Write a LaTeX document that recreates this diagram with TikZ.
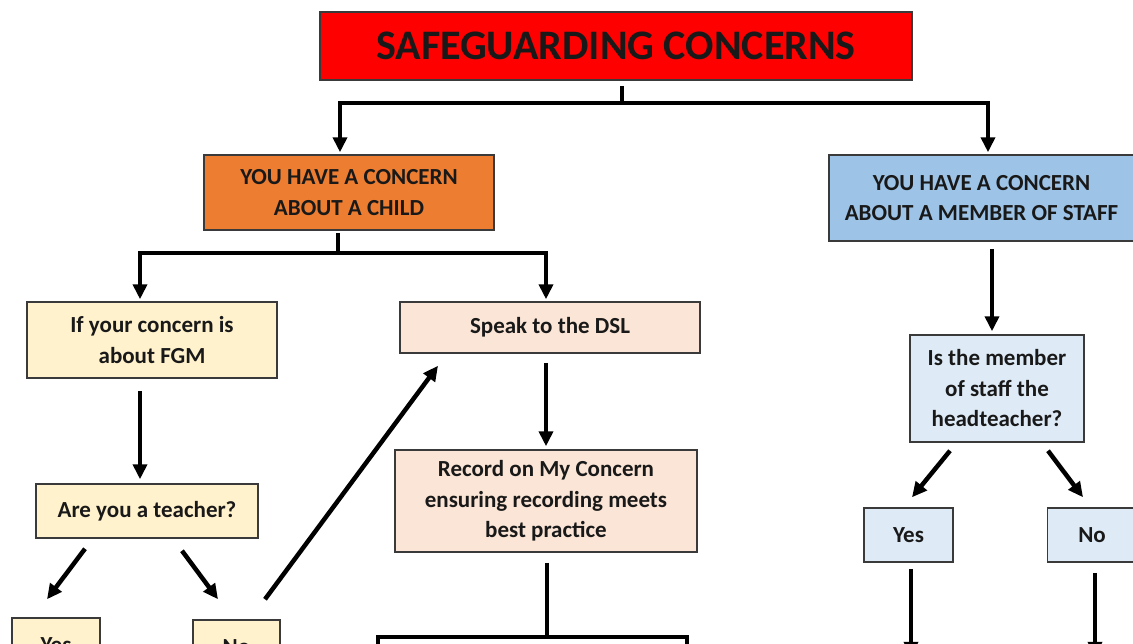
\documentclass[tikz,border=0pt]{standalone}
\usepackage{fontspec}
\setmainfont{Carlito}
\usetikzlibrary{arrows.meta,calc}
\definecolor{cred}{HTML}{FF0000}
\definecolor{corange}{HTML}{ED7D31}
\definecolor{cblue}{HTML}{9DC3E6}
\definecolor{cyellow}{HTML}{FFF2CC}
\definecolor{cpeach}{HTML}{FBE5D6}
\definecolor{clblue}{HTML}{DEEBF7}
\definecolor{boxline}{HTML}{3A3A3A}
\begin{document}
\begin{tikzpicture}[x=1pt,y=-1pt,
  box/.style={draw=boxline,line width=1.5pt,align=center,inner sep=0pt,
    font=\bfseries\fontsize{23}{30.5}\selectfont,text=black!90},
  ln/.style={line width=4.5pt,draw=black},
  arr/.style={ln,-{Triangle[length=15pt,width=14pt]}}]
\useasboundingbox (0,0) rectangle (1133,643);
\fill[white] (0,0) rectangle (1133,643);

% nodes
\node[box,fill=cred,minimum width=592pt,minimum height=68pt,
  font=\bfseries\fontsize{42}{42}\selectfont] (title) at (616,46) {SAFEGUARDING CONCERNS};
\node[box,fill=corange,minimum width=290pt,minimum height=75pt] (child) at (349,192.5) {YOU HAVE A CONCERN\\ABOUT A CHILD};
\node[box,fill=cblue,minimum width=305pt,minimum height=86pt] (staff) at (981.5,198) {YOU HAVE A CONCERN\\ABOUT A MEMBER OF STAFF};
\node[box,fill=cyellow,minimum width=250pt,minimum height=76pt] (fgm) at (152,340) {If your concern is\\about FGM};
\node[box,fill=cpeach,minimum width=300pt,minimum height=51pt] (dsl) at (550,327.5) {Speak to the DSL};
\node[box,fill=cyellow,minimum width=222pt,minimum height=54pt] (teacher) at (147,511) {Are you a teacher?};
\node[box,fill=cyellow,minimum width=88pt,minimum height=54pt] (yes1) at (56,645) {Yes};
\node[box,fill=cyellow,minimum width=87pt,minimum height=54pt] (no1) at (236.5,647) {No};
\node[box,fill=cpeach,minimum width=302pt,minimum height=102pt] (record) at (546,501) {Record on My Concern\\ensuring recording meets\\best practice};
\node[box,fill=clblue,minimum width=174pt,minimum height=107pt] (head) at (997,388.5) {Is the member\\of staff the\\headteacher?};
\node[box,fill=clblue,minimum width=89pt,minimum height=54pt] (yes2) at (908.5,535) {Yes};
\node[box,fill=clblue,minimum width=89pt,minimum height=54pt] (no2) at (1092,535) {No};

% connectors
\coordinate (b1) at (622,103);
\draw[ln,shorten <=5pt] (title.south -| b1) -- (b1);
\draw[arr,shorten >=2pt] (b1) -| ($(child.north)+(-9,0)$);
\draw[arr,shorten >=2pt] (b1) -| ($(staff.north)+(6.5,0)$);

\coordinate (b2) at (338,253);
\draw[ln,shorten <=2pt] (child.south -| b2) -- (b2);
\draw[arr,shorten >=2pt] (b2) -| ($(fgm.north)+(-12,0)$);
\draw[arr,shorten >=2pt] (b2) -| ($(dsl.north)+(-4,0)$);

\draw[arr,shorten <=12pt,shorten >=4pt] ($(fgm.south)+(-12,0)$) -- ($(teacher.north)+(-7,0)$);
\draw[arr] ($(teacher.south)+(-62,10)$) -- ($(yes1.north)+(-9,-18)$);
\draw[arr] ($(teacher.south)+(35,12)$) -- ($(no1.north)+(-18.5,-20)$);
\draw[arr] ($(no1.north)+(28.5,-20)$) -- ($(dsl.south)+(-112,12)$);

\draw[arr] ($(dsl.south)+(-4,9)$) -- ($(record.north)+(0,-3)$);
\coordinate (b3) at (547,637);
\coordinate (c1) at (378,665);
\coordinate (c2) at (687,665);
\draw[ln] ($(record.south)+(1,10)$) -- (b3);
\draw[ln] (b3) -| (c1);
\draw[ln] (b3) -| (c2);

\draw[arr] ($(staff.south)+(10.5,7)$) -- ($(head.north)+(-5,-3)$);
\draw[arr] ($(head.south)+(-47,8)$) -- ($(yes2.north)+(3.5,-10)$);
\draw[arr] ($(head.south)+(51,8)$) -- ($(no2.north)+(-9,-10)$);
\draw[arr] ($(yes2.south)+(2.5,6)$) -- ($(yes2.south)+(2.5,94)$);
\draw[arr] ($(no2.south)+(3,10)$) -- ($(no2.south)+(3,94)$);
\end{tikzpicture}
\end{document}
